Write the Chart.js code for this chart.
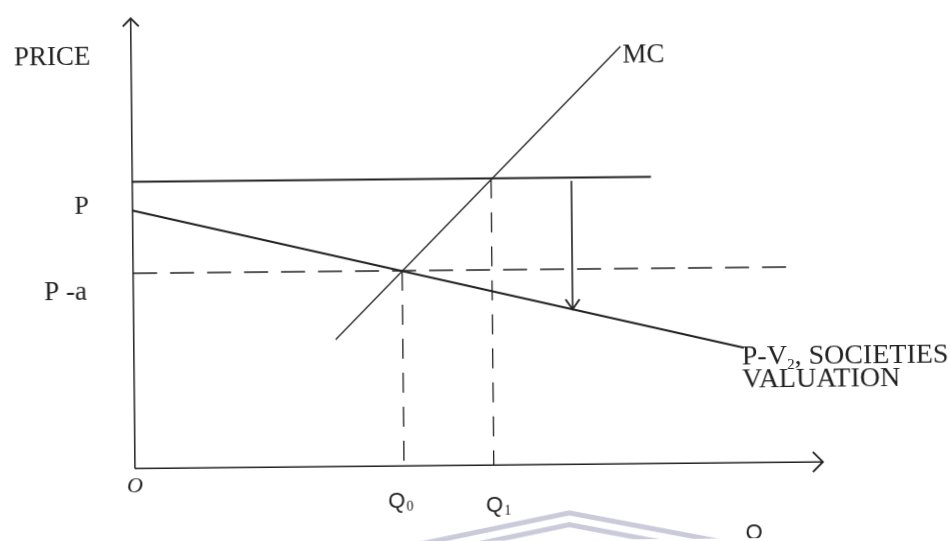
<!DOCTYPE html>
<html>
<head>
<meta charset="utf-8">
<script src="https://cdn.jsdelivr.net/npm/chart.js@4"></script>
<style>
  html, body { margin: 0; padding: 0; background: #fff; overflow: hidden; }
  /* the scanned figure sits slightly askew */
  #wrap { width: 950px; height: 541px; position: relative;
          transform-origin: 478px 242px; transform: rotate(-0.55deg); }
</style>
</head>
<body>
<div id="wrap"><canvas id="chart"></canvas></div>
<script>
// -----------------------
// DATA (quantity on x, price on y)
// -----------------------

const axisQty = [0, 98.8];
const axisPrice = [0, 64.9];

const pLineQty = [0, 74.5];          // price P
const pLinePrice = [41.33, 41.33];

const valQty = [0, 87.6];            // P-V2, societies valuation
const valPrice = [37.2, 16.57];

const paLineQty = [0, 93.9];         // P - a
const paLinePrice = [28.14, 28.14];

const mcQty = [29.0, 70.3];          // marginal cost
const mcPrice = [18.3, 60.2];

const qLabels = ['Q0', 'Q1'];
const qQty = [38.64, 51.53];
const qTopPrice = [28.14, 41.33];

const gapQty = [63.07, 63.07];       // arrow from P down to valuation
const gapPrice = [40.86, 22.35];

const markQty = [37.3, 62.3, 87.3];  // watermark chevrons
const markPrice = [-12, -7.0, -12];
const markInnerQty = [45.8, 62.3, 78.8];
const markInnerPrice = [-12, -8.7, -12];

// -----------------------
// HELPERS
// -----------------------

const ink = '#222';

function pts(xs, ys){
    return xs.map((x, i) => ({ x: x, y: ys[i] }));
}

function line(xs, ys, width, dash, color){
    return {
        data: pts(xs, ys),
        showLine: true,
        borderColor: color || ink,
        borderWidth: width,
        borderDash: dash || [],
        pointRadius: 0,
        fill: false,
        tension: 0,
        clip: false
    };
}

const datasets = [
    line(markQty, markPrice, 5, null, 'rgba(150,150,182,0.5)'),
    line(markInnerQty, markInnerPrice, 5, null, 'rgba(150,150,182,0.5)'),
    line([axisQty[0], axisQty[0]], axisPrice, 1.5),
    line(axisQty, [0, 0], 1.6),
    line(pLineQty, pLinePrice, 2.1),
    line(valQty, valPrice, 2),
    line(paLineQty, paLinePrice, 1.7, [24, 13]),
    line(mcQty, mcPrice, 1.3),
    line(gapQty, gapPrice, 1.6)
];

qQty.forEach((q, i) => {
    datasets.push(line([q, q], [qTopPrice[i], 0], 1.3, [20, 14]));
});

// -----------------------
// ARROWS AND TEXT
// -----------------------

function arrowHead(ctx, tx, ty, dx, dy, len, half){
    // open V at (tx,ty) pointing along (dx,dy)
    const nx = -dy, ny = dx;
    ctx.beginPath();
    ctx.moveTo(tx - dx * len + nx * half, ty - dy * len + ny * half);
    ctx.lineTo(tx, ty);
    ctx.lineTo(tx - dx * len - nx * half, ty - dy * len - ny * half);
    ctx.stroke();
}

const decor = {
    id: 'decor',
    afterDatasetsDraw(chart){
        const ctx = chart.ctx;
        const xs = chart.scales.x, ys = chart.scales.y;
        const X = v => xs.getPixelForValue(v);
        const Y = v => ys.getPixelForValue(v);

        ctx.save();
        ctx.strokeStyle = ink;
        ctx.lineWidth = 1.9;

        arrowHead(ctx, X(0), Y(axisPrice[1]), 0, -1, 8, 8);
        arrowHead(ctx, X(axisQty[1]), Y(0), 1, 0, 10, 10);
        arrowHead(ctx, X(gapQty[1]), Y(gapPrice[1]), 0, 1, 10, 7);

        ctx.fillStyle = ink;
        ctx.textBaseline = 'alphabetic';
        ctx.textAlign = 'left';
        const serif = '"Liberation Serif", serif';
        const sans = '"Liberation Sans", sans-serif';

        ctx.font = '27px ' + serif;
        ctx.fillText('PRICE', X(0) - 117, Y(axisPrice[1]) + 46);
        ctx.fillText('MC', X(mcQty[1]) + 2, Y(mcPrice[1]) + 16);

        ctx.font = '26px ' + serif;
        ctx.fillText('P', X(0) - 58, Y(valPrice[0]) + 3);
        ctx.font = '27px ' + serif;
        ctx.fillText('P -a', X(0) - 89, Y(paLinePrice[0]) + 26);

        ctx.font = 'italic 22px ' + serif;
        ctx.fillText('O', X(0) - 8, Y(0) + 24);

        // Q labels with subscripts
        const qOffsets = [[-16, 42], [-8, 47]];
        qQty.forEach((q, i) => {
            const x0 = X(q) + qOffsets[i][0], y0 = Y(0) + qOffsets[i][1];
            ctx.font = '22px ' + sans;
            ctx.fillText(qLabels[i][0], x0, y0);
            const w = ctx.measureText(qLabels[i][0]).width;
            ctx.font = '14px ' + serif;
            ctx.fillText(qLabels[i].slice(1), x0 + w + 1, y0 + 3);
        });
        ctx.font = '22px ' + sans;
        ctx.fillText('Q', X(axisQty[1]) - 78, Y(0) + 77);

        // valuation label
        const lx = X(valQty[1]) - 2, ly = Y(valPrice[1]) + 17;
        ctx.font = '28px ' + serif;
        ctx.fillText('P-V', lx, ly);
        let w = ctx.measureText('P-V').width;
        ctx.font = '15px ' + serif;
        ctx.fillText('2', lx + w, ly + 5);
        w += ctx.measureText('2').width;
        ctx.font = '28px ' + serif;
        ctx.fillText(', SOCIETIES', lx + w, ly);
        ctx.fillText('VALUATION', lx, ly + 23);

        ctx.restore();
    }
};

// -----------------------
// CHART
// -----------------------

const chart = new Chart(document.getElementById('chart'), {
    type: 'scatter',
    data: { datasets: datasets },
    options: {
        responsive: true,
        maintainAspectRatio: false,
        animation: false,
        layout: { padding: 0 },
        scales: {
            x: { type: 'linear', min: -18.714, max: 117, display: false },
            y: { type: 'linear', min: -10.571, max: 66.714, display: false }
        },
        plugins: {
            legend: { display: false },
            tooltip: { enabled: false }
        }
    },
    plugins: [decor]
});
</script>
</body>
</html>
